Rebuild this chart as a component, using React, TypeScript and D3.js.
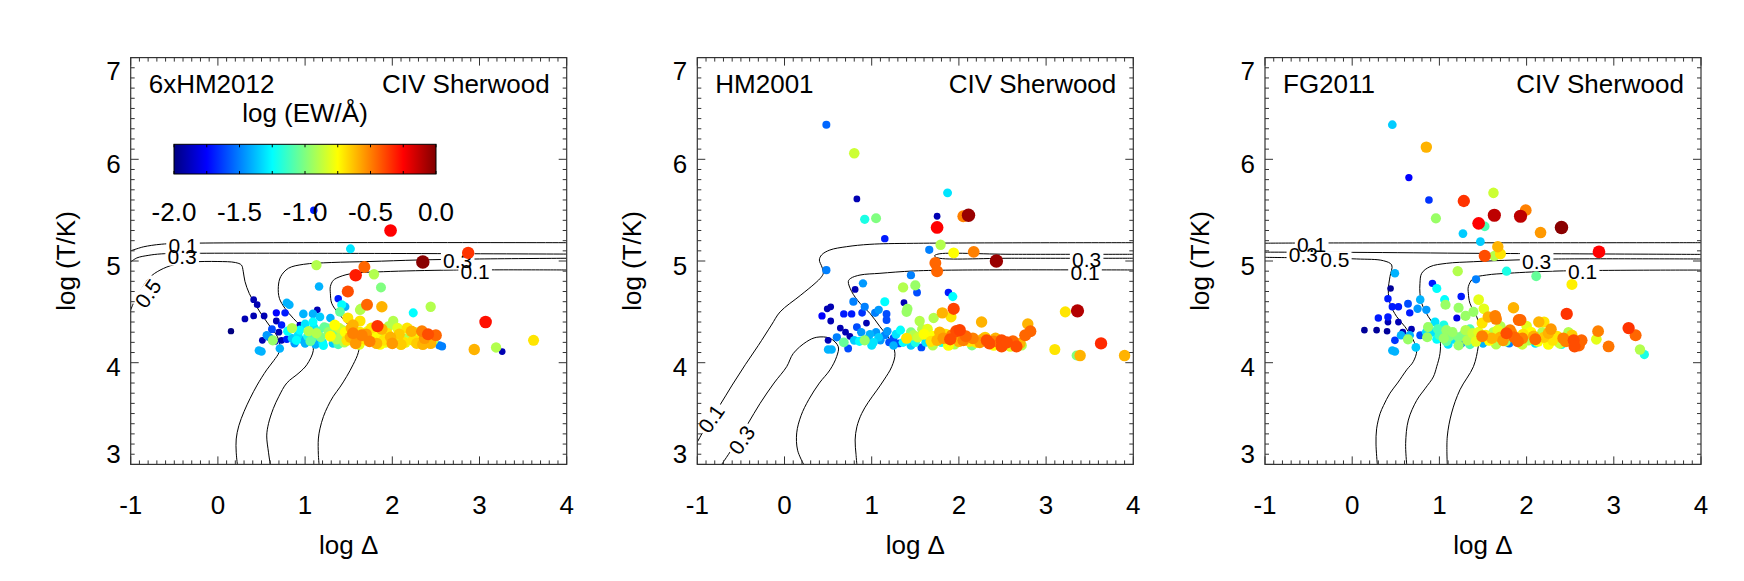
import React, { useEffect, useRef } from 'react';
import * as d3 from 'd3';

const W = 1744;
const H = 581;

// axis ranges and ticks
const xDomain = [-1, 4];
const yDomain = [3, 7];
const xTicks = [-1, 0, 1, 2, 3, 4];
const yTicks = [3, 4, 5, 6, 7];
const barTicks = [-2.0, -1.5, -1.0, -0.5, 0.0];
const barMinor = [-2, -1.75, -1.5, -1.25, -1, -0.75, -0.5, -0.25, 0];

// jet colour table over log EW
const jetStops = [-2, -1.75, -1.25, -0.75, -0.25, 0];
const jetColors = ['#000080', '#0000ff', '#00ffff', '#ffff00', '#ff0000', '#800000'];

const modelNames = ['6xHM2012', 'HM2001', 'FG2011'];
const ionName = 'CIV Sherwood';

// absorbers: [log Delta, log T, log EW]
const ptsHM2012x6 = [
  [1.10, 5.50, -1.7], [1.98, 5.30, -0.25], [1.52, 5.12, -1.3], [2.87, 5.08, -0.35], [2.35, 4.99, -0.02],
  [1.13, 4.96, -0.9], [1.68, 4.94, -0.45], [1.58, 4.86, -0.3], [1.79, 4.87, -0.9], [1.16, 4.75, -1.4],
  [1.87, 4.74, -1.0], [1.49, 4.70, -0.4], [1.38, 4.63, -1.7], [1.46, 4.55, -1.4], [1.64, 4.53, -0.9],
  [1.71, 4.57, -0.45], [1.88, 4.55, -0.6], [2.44, 4.55, -0.9], [2.24, 4.49, -1.25], [1.83, 4.36, -0.35],
  [2.01, 4.41, -0.9], [2.41, 4.28, -0.4], [3.07, 4.40, -0.28], [2.94, 4.13, -0.6], [3.19, 4.15, -0.9],
  [3.26, 4.11, -1.9], [3.62, 4.22, -0.7], [2.54, 4.17, -1.5], [2.57, 4.16, -1.5],
  [0.15, 4.31, -2.0], [0.31, 4.43, -1.9], [0.41, 4.62, -1.9], [0.45, 4.57, -1.9], [0.41, 4.46, -1.9],
  [0.53, 4.46, -1.9], [0.51, 4.22, -1.9], [0.47, 4.12, -1.4], [0.50, 4.11, -1.4], [0.56, 4.27, -1.45],
  [0.67, 4.49, -1.75], [0.67, 4.41, -1.9], [0.77, 4.49, -1.7], [0.79, 4.59, -1.4], [0.82, 4.57, -1.4],
  [0.73, 4.37, -1.7], [0.85, 4.34, -0.9], [0.73, 4.22, -1.9], [0.79, 4.23, -1.7], [0.71, 4.14, -1.4],
  [0.63, 4.22, -0.95], [0.66, 4.21, -1.9], [0.59, 4.25, -1.5], [0.62, 4.33, -1.6], [0.70, 4.30, -1.9],
  [0.98, 4.48, -1.4], [1.09, 4.48, -1.4], [1.14, 4.52, -1.9], [1.17, 4.45, -1.35], [1.09, 4.40, -1.25],
  [0.94, 4.37, -1.9], [1.04, 4.31, -0.9], [1.13, 4.29, -0.9], [1.22, 4.35, -1.05], [1.29, 4.44, -1.4],
  [1.34, 4.37, -0.75], [1.43, 4.32, -0.9], [1.49, 4.44, -0.7], [1.55, 4.37, -0.6], [1.63, 4.41, -0.7],
  [1.40, 4.50, -1.05], [1.42, 4.57, -1.25], [1.63, 4.52, -0.9],
  [0.85, 4.24, -1.35], [0.90, 4.22, -1.25], [0.94, 4.32, -1.25], [0.98, 4.22, -1.4], [1.06, 4.21, -1.05],
  [1.08, 4.24, -1.1], [1.15, 4.21, -1.45], [1.21, 4.17, -1.25], [1.25, 4.34, -1.05], [1.29, 4.26, -0.75],
  [1.36, 4.23, -0.9], [1.42, 4.27, -0.9], [1.48, 4.22, -0.7], [1.53, 4.34, -0.6], [1.55, 4.29, -0.5],
  [1.65, 4.27, -0.5], [1.66, 4.22, -0.75], [1.63, 4.30, -0.7], [1.69, 4.23, -0.7], [1.74, 4.21, -0.5],
  [1.78, 4.22, -0.9], [1.85, 4.29, -0.9], [1.90, 4.22, -0.7], [1.94, 4.29, -0.7], [2.03, 4.22, -0.8],
  [2.06, 4.34, -0.8], [2.11, 4.24, -0.9], [2.17, 4.34, -0.7], [2.20, 4.26, -0.9], [2.24, 4.22, -0.7],
  [2.32, 4.22, -0.7], [2.34, 4.31, -0.5], [2.40, 4.20, -0.6], [2.44, 4.19, -0.6], [1.20, 4.20, -1.3],
  [1.32, 4.19, -1.35], [1.58, 4.19, -0.55], [1.82, 4.19, -0.6], [2.00, 4.19, -0.55], [2.15, 4.20, -0.8],
  [2.28, 4.19, -0.65], [1.00, 4.19, -1.4], [0.88, 4.19, -1.45], [1.45, 4.20, -0.9], [1.72, 4.31, -0.8],
  [1.98, 4.25, -0.6], [2.26, 4.30, -0.85], [0.80, 4.31, -1.25], [1.15, 4.31, -1.15], [1.00, 4.38, -1.3],
  [0.92, 4.27, -1.3], [1.03, 4.26, -1.2], [1.10, 4.35, -1.3], [1.18, 4.25, -1.0], [1.27, 4.30, -0.95],
  [1.33, 4.28, -1.0], [1.39, 4.34, -0.85], [1.46, 4.30, -0.75], [1.52, 4.25, -0.6], [1.60, 4.24, -0.65],
  [1.70, 4.28, -0.55], [1.76, 4.34, -0.7], [1.81, 4.25, -0.75], [1.88, 4.33, -0.6], [1.92, 4.20, -0.8],
  [1.96, 4.36, -0.9], [2.08, 4.28, -0.65], [2.13, 4.20, -0.7], [2.22, 4.31, -0.6], [2.30, 4.26, -0.8],
  [2.37, 4.24, -0.55], [2.47, 4.22, -0.9], [2.50, 4.27, -0.45], [1.12, 4.18, -1.4], [1.38, 4.18, -1.1],
  [1.62, 4.18, -0.8], [1.86, 4.18, -0.75], [2.10, 4.18, -0.65], [2.35, 4.18, -0.6],
];

const ptsHM2001 = [
  [0.48, 6.34, -1.55], [0.80, 6.06, -0.85], [0.83, 5.61, -1.9], [0.92, 5.41, -1.2], [1.05, 5.42, -1.0],
  [1.15, 5.22, -1.7], [1.87, 5.67, -1.3], [1.75, 5.44, -1.9], [1.75, 5.33, -0.25], [1.79, 5.16, -0.9],
  [1.66, 5.11, -1.5], [1.94, 5.08, -0.75], [1.73, 4.98, -0.45], [1.75, 4.90, -0.45], [2.05, 5.44, -0.5],
  [2.11, 5.45, -0.05], [2.17, 5.09, -0.5], [2.43, 5.00, -0.05], [0.48, 4.91, -1.5], [1.45, 4.86, -1.5],
  [0.90, 4.78, -1.45], [0.81, 4.72, -1.9], [1.36, 4.74, -0.9], [1.50, 4.76, -0.95], [1.52, 4.69, -1.6],
  [1.88, 4.69, -1.7], [1.93, 4.65, -1.25], [0.49, 4.53, -1.9], [0.53, 4.55, -1.9], [0.79, 4.60, -1.5],
  [1.15, 4.60, -1.25], [1.37, 4.59, -1.9], [1.41, 4.53, -0.95], [1.40, 4.50, -0.95], [0.43, 4.46, -1.75],
  [0.53, 4.41, -1.9], [0.68, 4.48, -1.7], [0.77, 4.48, -1.7], [0.89, 4.49, -1.65], [0.92, 4.55, -1.5],
  [1.04, 4.49, -1.5], [1.08, 4.52, -1.45], [1.17, 4.48, -1.6], [1.17, 4.42, -1.6], [1.55, 4.41, -0.9],
  [1.71, 4.44, -0.9], [1.81, 4.49, -0.6], [1.94, 4.53, -0.38], [1.91, 4.45, -0.7], [2.26, 4.40, -0.6],
  [3.22, 4.50, -0.7], [3.36, 4.51, -0.1], [2.79, 4.38, -0.6], [2.82, 4.31, -0.45], [2.76, 4.27, -0.45],
  [3.10, 4.13, -0.7], [3.63, 4.19, -0.33], [3.35, 4.07, -1.0], [3.39, 4.07, -0.6], [3.90, 4.07, -0.6],
  [0.64, 4.34, -1.9], [0.70, 4.30, -1.9], [0.75, 4.26, -1.9], [0.50, 4.22, -1.9], [0.50, 4.13, -1.4],
  [0.54, 4.13, -1.4], [0.68, 4.20, -1.05], [0.73, 4.14, -1.6], [0.83, 4.35, -1.6], [0.94, 4.39, -1.9],
  [0.88, 4.30, -1.45], [1.05, 4.30, -1.45], [1.15, 4.27, -1.5], [1.25, 4.24, -1.6], [1.33, 4.32, -1.25],
  [1.31, 4.19, -1.6], [0.92, 4.22, -0.95], [0.60, 4.25, -1.5], [0.80, 4.22, -1.35], [0.86, 4.21, -1.25],
  [0.96, 4.24, -1.4], [1.02, 4.20, -1.3], [1.10, 4.22, -1.45], [1.20, 4.20, -1.6], [1.40, 4.22, -1.25],
  [1.48, 4.27, -0.9], [1.40, 4.24, -0.7], [1.58, 4.33, -0.9], [1.64, 4.33, -0.8], [1.57, 4.15, -1.6],
  [1.50, 4.20, -1.2], [1.62, 4.20, -1.3], [1.75, 4.22, -0.6], [1.90, 4.23, -0.4], [1.97, 4.31, -0.4],
  [2.01, 4.32, -0.38], [1.85, 4.28, -0.7], [1.70, 4.26, -0.75], [1.80, 4.20, -1.2], [2.05, 4.22, -0.5],
  [2.12, 4.21, -0.7], [2.20, 4.20, -0.7], [2.27, 4.23, -0.6], [2.35, 4.19, -0.4], [2.49, 4.22, -0.4],
  [2.49, 4.16, -0.4], [2.59, 4.16, -0.8], [2.66, 4.16, -0.4], [2.72, 4.17, -0.9], [2.42, 4.24, -0.6],
  [2.30, 4.25, -0.65], [1.95, 4.18, -0.9], [2.15, 4.17, -1.0], [2.40, 4.17, -0.75],
  [0.98, 4.28, -1.4], [1.08, 4.25, -1.35], [1.18, 4.31, -1.45], [1.28, 4.28, -1.3], [1.36, 4.20, -1.25],
  [1.45, 4.30, -1.0], [1.53, 4.25, -0.85], [1.60, 4.28, -0.75], [1.68, 4.21, -0.7], [1.78, 4.30, -0.6],
  [1.82, 4.24, -0.55], [1.92, 4.27, -0.5], [2.00, 4.21, -0.6], [2.08, 4.26, -0.45], [2.16, 4.24, -0.5],
  [2.24, 4.20, -0.55], [2.32, 4.22, -0.4], [2.40, 4.21, -0.5], [2.55, 4.20, -0.4], [2.62, 4.21, -0.45],
  [2.70, 4.19, -0.6], [1.00, 4.17, -1.3], [1.25, 4.17, -1.4], [1.45, 4.17, -1.35], [1.70, 4.17, -0.9],
  [1.88, 4.17, -0.75],
];

const ptsFG2011 = [
  [0.46, 6.34, -1.35], [0.85, 6.12, -0.6], [0.65, 5.82, -1.75], [0.88, 5.60, -1.65], [0.96, 5.42, -0.95],
  [1.28, 5.59, -0.35], [1.62, 5.67, -0.85], [1.63, 5.45, -0.12], [1.45, 5.37, -0.25], [1.52, 5.34, -1.1],
  [1.27, 5.27, -1.35], [1.47, 5.19, -1.35], [1.67, 5.14, -0.6], [1.52, 5.05, -0.4], [1.63, 5.05, -0.9],
  [1.70, 5.07, -0.7], [1.99, 5.50, -0.5], [1.93, 5.44, -0.12], [2.16, 5.28, -0.55], [2.40, 5.33, -0.02],
  [2.83, 5.09, -0.25], [0.49, 4.88, -1.4], [1.21, 4.90, -0.9], [1.42, 4.82, -1.5], [1.77, 4.90, -1.2],
  [2.11, 4.85, -1.05], [2.52, 4.77, -0.72], [0.44, 4.73, -1.95], [0.92, 4.78, -1.7], [0.97, 4.73, -1.25],
  [0.41, 4.63, -1.7], [0.46, 4.55, -1.7], [0.53, 4.55, -1.7], [1.25, 4.65, -1.7], [0.78, 4.62, -1.4],
  [1.06, 4.62, -1.25], [1.45, 4.62, -0.8], [1.07, 4.57, -0.95], [1.22, 4.54, -0.95], [1.51, 4.53, -0.8],
  [1.85, 4.54, -0.6], [1.64, 4.46, -0.5], [1.91, 4.42, -0.45], [2.46, 4.48, -0.35], [2.82, 4.31, -0.5],
  [3.17, 4.34, -0.35], [3.25, 4.27, -0.45], [2.80, 4.23, -0.8], [2.94, 4.16, -0.48], [3.30, 4.13, -0.9],
  [3.35, 4.08, -1.2],
  [0.30, 4.44, -1.7], [0.41, 4.45, -1.7], [0.41, 4.40, -1.9], [0.53, 4.40, -1.9], [0.64, 4.58, -1.6],
  [0.66, 4.49, -1.7], [0.75, 4.53, -1.45], [0.85, 4.52, -1.45], [0.14, 4.32, -1.95], [0.28, 4.32, -1.95],
  [0.40, 4.31, -1.95], [0.58, 4.30, -1.9], [0.68, 4.33, -1.9], [0.49, 4.22, -1.65], [0.56, 4.27, -1.4],
  [0.66, 4.27, -1.4], [0.64, 4.23, -0.95], [0.46, 4.12, -1.4], [0.49, 4.11, -1.4], [0.73, 4.15, -1.35],
  [0.87, 4.35, -0.95], [0.86, 4.25, -0.95], [0.97, 4.23, -1.25], [1.08, 4.32, -0.95], [1.08, 4.21, -1.05],
  [1.22, 4.17, -0.95], [1.20, 4.44, -1.8], [1.30, 4.46, -0.95], [1.39, 4.50, -0.95], [1.49, 4.39, -0.7],
  [1.56, 4.45, -0.6], [1.65, 4.43, -0.5], [1.49, 4.26, -0.5], [1.77, 4.29, -0.4], [1.81, 4.32, -0.5],
  [0.78, 4.27, -1.6], [0.92, 4.30, -1.3], [1.00, 4.27, -1.1], [1.12, 4.26, -1.0], [1.16, 4.23, -1.3],
  [1.27, 4.27, -1.0], [1.32, 4.22, -0.9], [1.38, 4.29, -0.85], [1.42, 4.21, -0.8], [1.57, 4.22, -0.75],
  [1.62, 4.30, -0.9], [1.70, 4.25, -0.6], [1.76, 4.21, -0.95], [1.86, 4.25, -0.45], [1.90, 4.21, -0.45],
  [1.96, 4.28, -0.7], [2.02, 4.22, -0.9], [2.08, 4.26, -0.6], [2.13, 4.21, -0.75], [2.18, 4.30, -0.9],
  [2.25, 4.29, -0.6], [2.30, 4.22, -0.7], [2.38, 4.19, -0.85], [2.42, 4.24, -0.5], [2.54, 4.22, -0.4],
  [2.60, 4.17, -0.45], [2.55, 4.16, -0.4], [2.48, 4.30, -0.9], [2.20, 4.40, -0.7], [2.14, 4.40, -0.6],
  [1.93, 4.42, -0.45], [2.00, 4.36, -0.8], [1.25, 4.19, -1.5], [1.50, 4.19, -1.4], [1.80, 4.19, -1.5],
  [2.10, 4.19, -1.3], [2.40, 4.18, -1.2], [1.05, 4.37, -1.2], [0.95, 4.40, -1.3], [1.35, 4.33, -1.1],
  [1.70, 4.36, -0.9],
  [0.85, 4.30, -1.3], [0.98, 4.33, -1.1], [1.05, 4.24, -0.95], [1.15, 4.30, -0.95], [1.22, 4.25, -1.0],
  [1.30, 4.32, -0.9], [1.36, 4.25, -0.95], [1.45, 4.30, -0.8], [1.53, 4.27, -0.7], [1.60, 4.24, -0.6],
  [1.67, 4.32, -0.8], [1.73, 4.22, -0.55], [1.83, 4.29, -0.6], [1.95, 4.24, -0.5], [2.05, 4.30, -0.75],
  [2.10, 4.23, -0.45], [2.20, 4.25, -0.65], [2.28, 4.33, -0.55], [2.35, 4.26, -0.7], [2.45, 4.21, -0.5],
  [2.52, 4.27, -0.65], [2.63, 4.22, -0.45], [1.10, 4.18, -1.3], [1.35, 4.18, -1.1], [1.65, 4.18, -0.9],
  [1.95, 4.18, -0.85], [2.25, 4.18, -0.75],
];

// CIV ion fraction contours: [log Delta, log T]
const contHM2012x6 = [
  [[-1, 5.10], [-0.93, 5.12], [-0.85, 5.14], [-0.65, 5.165], [-0.3, 5.175], [4, 5.18]],
  [[-1, 4.99], [-0.93, 5.03], [-0.8, 5.055], [-0.65, 5.07], [-0.2, 5.076], [4, 5.068]],
  [[-1, 4.52], [-0.96, 4.60], [-0.88, 4.72], [-0.78, 4.84], [-0.664, 4.91], [-0.5, 4.965], [-0.3, 4.99],
    [0.0, 4.995], [0.2, 4.985], [0.27, 4.96], [0.29, 4.9], [0.31, 4.8], [0.36, 4.68], [0.445, 4.55],
    [0.52, 4.45], [0.6, 4.354], [0.68, 4.26], [0.71, 4.18], [0.7, 4.1], [0.64, 4.02], [0.56, 3.93],
    [0.45, 3.78], [0.37, 3.65], [0.3, 3.52], [0.24, 3.38], [0.21, 3.25], [0.21, 3.12], [0.223, 3.0]],
  [[4, 5.027], [3.0, 5.02], [2.3, 5.01], [1.744, 4.995], [1.3, 4.985], [0.98, 4.967], [0.808, 4.928],
    [0.72, 4.846], [0.693, 4.748], [0.705, 4.633], [0.77, 4.534], [0.865, 4.436], [0.94, 4.37],
    [1.02, 4.289], [1.075, 4.2], [1.094, 4.12], [1.02, 3.98], [0.93, 3.9], [0.79, 3.8], [0.7, 3.67],
    [0.636, 3.55], [0.58, 3.4], [0.56, 3.28], [0.58, 3.12], [0.6, 3.0]],
  [[4, 4.912], [2.7, 4.911], [1.9, 4.895], [1.553, 4.879], [1.4, 4.846], [1.324, 4.81], [1.29, 4.75],
    [1.29, 4.68], [1.305, 4.585], [1.38, 4.487], [1.477, 4.39], [1.553, 4.3], [1.62, 4.19], [1.61, 4.1],
    [1.55, 3.98], [1.477, 3.865], [1.4, 3.76], [1.324, 3.67], [1.26, 3.57], [1.21, 3.47], [1.17, 3.35],
    [1.152, 3.25], [1.152, 3.1], [1.16, 3.0]],
];

const contHM2001 = [
  [[-1, 3.22], [-0.88, 3.4], [-0.75, 3.57], [-0.6, 3.78], [-0.45, 3.98], [-0.3, 4.17], [-0.15, 4.37],
    [-0.05, 4.5], [0.18, 4.66], [0.35, 4.78], [0.42, 4.84], [0.445, 4.88], [0.43, 4.94], [0.4, 5.01],
    [0.426, 5.06], [0.52, 5.108], [0.713, 5.141], [0.98, 5.164], [1.48, 5.174], [4, 5.18]],
  [[-0.72, 3.0], [-0.58, 3.18], [-0.42, 3.4], [-0.28, 3.6], [-0.12, 3.8], [0.025, 3.961], [0.1, 4.09],
    [0.254, 4.207], [0.37, 4.25], [0.522, 4.24], [0.617, 4.157], [0.598, 4.06], [0.522, 3.93],
    [0.4, 3.8], [0.28, 3.64], [0.19, 3.48], [0.14, 3.31], [0.15, 3.14], [0.22, 3.0]],
  [[4, 4.912], [2.0, 4.911], [1.477, 4.902], [1.095, 4.879], [0.866, 4.862], [0.76, 4.83], [0.732, 4.8],
    [0.77, 4.7], [0.866, 4.584], [0.98, 4.485], [1.095, 4.354], [1.21, 4.223], [1.267, 4.092],
    [1.23, 3.961], [1.14, 3.83], [1.06, 3.73], [0.96, 3.61], [0.885, 3.5], [0.83, 3.37], [0.81, 3.24],
    [0.82, 3.1], [0.83, 3.0]],
  [[4, 5.066], [2.6, 5.066], [1.76, 5.068], [1.72, 5.05], [1.76, 5.03], [2.6, 5.027], [4, 5.027]],
];

const contFG2011 = [
  [[-1, 5.175], [-0.5, 5.177], [4, 5.18]],
  [[-1, 5.087], [0, 5.085], [1.5, 5.075], [4, 5.065]],
  [[-1, 5.036], [-0.5, 5.03], [0.051, 5.02], [0.357, 5.003], [0.453, 4.961], [0.433, 4.846],
    [0.414, 4.715], [0.433, 4.584], [0.51, 4.453], [0.605, 4.354], [0.7, 4.223], [0.74, 4.12],
    [0.7, 4.01], [0.625, 3.93], [0.52, 3.8], [0.433, 3.7], [0.36, 3.58], [0.32, 3.5], [0.28, 3.35],
    [0.273, 3.2], [0.288, 3.0]],
  [[4, 5.02], [2.364, 5.02], [1.867, 5.01], [1.389, 4.993], [1.083, 4.977], [0.892, 4.944],
    [0.797, 4.879], [0.777, 4.78], [0.777, 4.682], [0.797, 4.584], [0.873, 4.453], [0.95, 4.354],
    [1.007, 4.223], [1.007, 4.092], [0.969, 3.961], [0.93, 3.86], [0.84, 3.75], [0.74, 3.63],
    [0.644, 3.436], [0.613, 3.207], [0.625, 3.0]],
  [[4, 4.911], [2.383, 4.902], [1.8, 4.88], [1.54, 4.862], [1.389, 4.83], [1.332, 4.748], [1.332, 4.683],
    [1.35, 4.585], [1.427, 4.454], [1.466, 4.323], [1.446, 4.16], [1.39, 3.961], [1.236, 3.734],
    [1.14, 3.505], [1.09, 3.27], [1.09, 3.0]],
];

// contour labels: [text, log Delta, log T, angle]
const labHM2012x6 = [
  ['0.1', -0.40, 5.155, 0], ['0.3', -0.41, 5.042, 0], ['0.5', -0.80, 4.68, -55],
  ['0.3', 2.75, 5.005, 0], ['0.1', 2.95, 4.895, 0],
];
const labHM2001 = [
  ['0.1', -0.84, 3.45, -55], ['0.3', -0.49, 3.24, -55],
  ['0.3', 3.465, 5.016, 0], ['0.1', 3.446, 4.885, 0],
];
const labFG2011 = [
  ['0.1', -0.465, 5.165, 0], ['0.3', -0.56, 5.06, 0], ['0.5', -0.20, 5.01, 0],
  ['0.3', 2.115, 4.993, 0], ['0.1', 2.643, 4.895, 0],
];

const allPoints = [ptsHM2012x6, ptsHM2001, ptsFG2011];
const allContours = [contHM2012x6, contHM2001, contFG2011];
const allLabels = [labHM2012x6, labHM2001, labFG2011];

const App = () => {
  const svgRef = useRef(null);

  useEffect(() => {
    const svg = d3.select(svgRef.current);
    svg.selectAll('*').remove();

    const font = '"Liberation Sans", Arial, Helvetica, sans-serif';
    const panelLeft = [130.7, 697.3, 1265];
    const plotW = 436;
    const top = 57.6;
    const bottom = 464.4;

    const y = d3.scaleLinear().domain(yDomain).range([bottom, top]);
    const color = d3.scaleLinear().domain(jetStops).range(jetColors).clamp(true);
    const radius = d3.scaleLinear().domain([-2, 0]).range([3.2, 6.8]).clamp(true);

    // gradient for the colour bar
    const defs = svg.append('defs');
    const grad = defs.append('linearGradient').attr('id', 'jet').attr('x1', '0%').attr('x2', '100%');
    jetStops.forEach((s, k) => {
      grad.append('stop').attr('offset', `${((s + 2) / 2) * 100}%`).attr('stop-color', jetColors[k]);
    });

    modelNames.forEach((name, i) => {
      const left = panelLeft[i];
      const x = d3.scaleLinear().domain(xDomain).range([left, left + plotW]);
      const g = svg.append('g');
      const clipId = `clip${i}`;
      defs.append('clipPath').attr('id', clipId)
        .append('rect').attr('x', left).attr('y', top).attr('width', plotW).attr('height', bottom - top);

      // contours
      const line = d3.line().x(d => x(d[0])).y(d => y(d[1])).curve(d3.curveCatmullRom);
      const cg = g.append('g').attr('clip-path', `url(#${clipId})`);
      allContours[i].forEach(c => {
        cg.append('path').attr('d', line(c)).attr('fill', 'none').attr('stroke', '#000').attr('stroke-width', 1);
      });

      // contour labels (white gap behind)
      const fs = 21;
      allLabels[i].forEach(l => {
        const w = l[0].length * fs * 0.47;
        cg.append('rect')
          .attr('transform', `translate(${x(l[1])},${y(l[2])}) rotate(${l[3]})`)
          .attr('x', -w / 2 - 2).attr('y', -fs * 0.42).attr('width', w + 4).attr('height', fs * 0.84)
          .attr('fill', '#fff');
      });
      allLabels[i].forEach(l => {
        cg.append('text')
          .attr('transform', `translate(${x(l[1])},${y(l[2])}) rotate(${l[3]})`)
          .attr('y', fs * 0.35)
          .attr('text-anchor', 'middle')
          .style('font-family', font).style('font-size', `${fs}px`)
          .text(l[0]);
      });

      // points, small ones first
      const pts = [...allPoints[i]].sort((a, b) => a[2] - b[2]);
      g.append('g').attr('clip-path', `url(#${clipId})`)
        .selectAll('circle').data(pts).join('circle')
        .attr('cx', d => x(d[0])).attr('cy', d => y(d[1]))
        .attr('r', d => radius(d[2]))
        .attr('fill', d => color(d[2]));

      // frame
      g.append('rect').attr('x', left).attr('y', top).attr('width', plotW).attr('height', bottom - top)
        .attr('fill', 'none').attr('stroke', '#333').attr('stroke-width', 1.2);

      // ticks
      const tk = g.append('g').attr('stroke', '#333').attr('stroke-width', 1);
      d3.range(-10, 41).forEach(k => {
        const len = k % 10 === 0 ? 8 : 4;
        const xv = x(k / 10);
        tk.append('line').attr('x1', xv).attr('x2', xv).attr('y1', bottom).attr('y2', bottom - len);
        tk.append('line').attr('x1', xv).attr('x2', xv).attr('y1', top).attr('y2', top + len);
      });
      d3.range(30, 71).forEach(k => {
        const len = k % 10 === 0 ? 8 : 4;
        const yv = y(k / 10);
        tk.append('line').attr('y1', yv).attr('y2', yv).attr('x1', left).attr('x2', left + len);
        tk.append('line').attr('y1', yv).attr('y2', yv).attr('x1', left + plotW).attr('x2', left + plotW - len);
      });

      const fsT = 26;
      xTicks.forEach(t => {
        g.append('text').attr('x', x(t)).attr('y', 514).attr('text-anchor', 'middle')
          .style('font-family', font).style('font-size', `${fsT}px`).text(t);
      });
      yTicks.forEach(t => {
        const dy = t === 7 ? 22.5 : t === 3 ? -1 : 13.5;
        g.append('text').attr('x', left - 10).attr('y', y(t) + dy).attr('text-anchor', 'end')
          .style('font-family', font).style('font-size', `${fsT}px`).text(t);
      });

      // axis titles
      g.append('text').attr('x', left + plotW / 2).attr('y', 554).attr('text-anchor', 'middle')
        .style('font-family', font).style('font-size', `${fsT}px`).text('log \u0394');
      g.append('text')
        .attr('transform', `translate(${left - 56},${(top + bottom) / 2}) rotate(-90)`)
        .attr('text-anchor', 'middle')
        .style('font-family', font).style('font-size', `${fsT}px`).text('log (T/K)');

      // panel annotations
      g.append('text').attr('x', left + 18).attr('y', 93)
        .style('font-family', font).style('font-size', `${fsT}px`).text(name);
      g.append('text').attr('x', left + plotW - 17).attr('y', 93).attr('text-anchor', 'end')
        .style('font-family', font).style('font-size', `${fsT}px`).text(ionName);

      // colour bar in the first panel
      if (i === 0) {
        const bx = d3.scaleLinear().domain([-2, 0]).range([left + 43.3, left + 305.3]);
        const by0 = 144.3;
        const by1 = 174;
        g.append('rect').attr('x', bx(-2)).attr('y', by0).attr('width', bx(0) - bx(-2)).attr('height', by1 - by0)
          .attr('fill', 'url(#jet)').attr('stroke', '#000').attr('stroke-width', 1);
        barMinor.forEach(v => {
          g.append('line').attr('x1', bx(v)).attr('x2', bx(v)).attr('y1', by0).attr('y2', by0 + 3).attr('stroke', '#000');
          g.append('line').attr('x1', bx(v)).attr('x2', bx(v)).attr('y1', by1).attr('y2', by1 - 3).attr('stroke', '#000');
        });
        barTicks.forEach(v => {
          g.append('text').attr('x', bx(v)).attr('y', 221).attr('text-anchor', 'middle')
            .style('font-family', font).style('font-size', `${fsT}px`).text(v.toFixed(1));
        });
        g.append('text').attr('x', bx(-1)).attr('y', 121.5).attr('text-anchor', 'middle')
          .style('font-family', font).style('font-size', `${fsT}px`).text('log (EW/\u00c5)');
      }
    });
  }, []);

  return (
    <svg ref={svgRef} width={W} height={H}
      style={{ position: 'absolute', left: 0, top: 0, background: '#fff' }} />
  );
};

export default App;
